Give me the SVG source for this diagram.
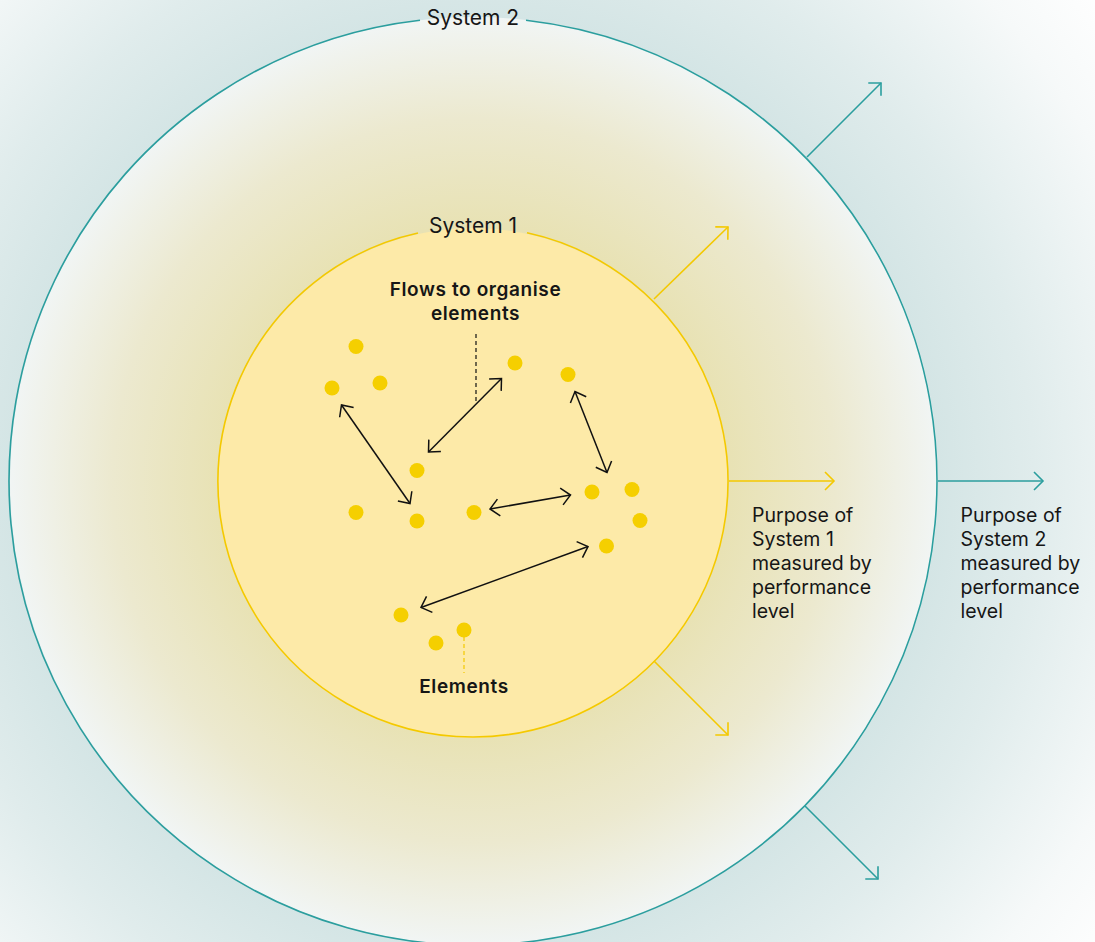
<svg xmlns="http://www.w3.org/2000/svg" width="1095" height="942" viewBox="0 0 1095 942">
  <defs>
    <!-- backdrop around the outer system -->
    <radialGradient id="bgOuter" gradientUnits="userSpaceOnUse" cx="474" cy="481" r="800">
      <stop offset="0" stop-color="#d4e5e5"/>
      <stop offset="0.58" stop-color="#d4e5e5"/>
      <stop offset="0.7" stop-color="#e0ecec"/>
      <stop offset="0.88" stop-color="#f6f9f9"/>
      <stop offset="1" stop-color="#ffffff"/>
    </radialGradient>
    <!-- fill of System 2 -->
    <radialGradient id="sys2Fill" gradientUnits="userSpaceOnUse" cx="474" cy="481" r="464">
      <stop offset="0" stop-color="#e6dfa8"/>
      <stop offset="0.55" stop-color="#e8e2b4"/>
      <stop offset="0.78" stop-color="#ece9cf"/>
      <stop offset="1" stop-color="#f1f5f4"/>
    </radialGradient>
    <marker id="chevY" markerUnits="userSpaceOnUse" markerWidth="24" markerHeight="24" viewBox="-12 -12 16 24" refX="0" refY="0" orient="auto">
      <path d="M-9,-9 L0,0 L-9,9" fill="none" stroke="#f4c900" stroke-width="1.6"/>
    </marker>
    <marker id="chevT" markerUnits="userSpaceOnUse" markerWidth="24" markerHeight="24" viewBox="-12 -12 16 24" refX="0" refY="0" orient="auto">
      <path d="M-9,-9 L0,0 L-9,9" fill="none" stroke="#2b9e9e" stroke-width="1.6"/>
    </marker>
    <marker id="chevK" markerUnits="userSpaceOnUse" markerWidth="24" markerHeight="24" viewBox="-12 -12 16 24" refX="0" refY="0" orient="auto-start-reverse">
      <path d="M-9,-8.5 L0,0 L-9,8.5" fill="none" stroke="#111111" stroke-width="1.5"/>
    </marker>
    <style>
      .txt { font-family: Inter, "Noto Sans", "Liberation Sans", sans-serif; fill: #161616; }
      .sys { font-size: 21px; text-anchor: middle; }
      .note { font-size: 19.5px; }
      .lbl { font-size: 19px; font-weight: 600; letter-spacing: 0.6px; text-anchor: middle; }
      .dot { fill: #f5cf00; }
      .flow { fill: none; stroke: #111111; stroke-width: 1.5; marker-start: url(#chevK); marker-end: url(#chevK); }
      .outY { fill: none; stroke: #f4c900; stroke-width: 1.6; marker-end: url(#chevY); }
      .outT { fill: none; stroke: #2b9e9e; stroke-width: 1.6; marker-end: url(#chevT); }
    </style>
  </defs>

  <rect x="0" y="0" width="1095" height="942" fill="url(#bgOuter)"/>

  <!-- System 2: outer circle, gap in the rim for its title -->
  <g id="system2">
    <circle cx="474" cy="481" r="464" fill="url(#sys2Fill)"/>
    <path d="M526,20.2 A464,464 0 1 1 420,20.2" fill="none" stroke="#2b9e9e" stroke-width="1.6"/>
    <text class="txt sys" x="473" y="25">System 2</text>
  </g>

  <!-- System 1: inner circle -->
  <g id="system1">
    <circle cx="473" cy="483" r="255" fill="#fdeaa8"/>
    <path d="M527,232.8 A255,255 0 1 1 418,233" fill="none" stroke="#f4c900" stroke-width="1.6"/>
    <text class="txt sys" x="473" y="233">System 1</text>
  </g>

  <!-- elements of System 1 -->
  <g id="elements">
    <circle class="dot" cx="356" cy="346.5" r="7.5"/>
    <circle class="dot" cx="332" cy="388" r="7.5"/>
    <circle class="dot" cx="380" cy="383" r="7.5"/>
    <circle class="dot" cx="417" cy="470.5" r="7.5"/>
    <circle class="dot" cx="356" cy="512.5" r="7.5"/>
    <circle class="dot" cx="417" cy="521" r="7.5"/>
    <circle class="dot" cx="515" cy="363" r="7.5"/>
    <circle class="dot" cx="568" cy="374.5" r="7.5"/>
    <circle class="dot" cx="592" cy="492" r="7.5"/>
    <circle class="dot" cx="632" cy="489.5" r="7.5"/>
    <circle class="dot" cx="640" cy="520.5" r="7.5"/>
    <circle class="dot" cx="474" cy="512.5" r="7.5"/>
    <circle class="dot" cx="606.5" cy="546" r="7.5"/>
    <circle class="dot" cx="401" cy="615" r="7.5"/>
    <circle class="dot" cx="436" cy="643" r="7.5"/>
    <circle class="dot" cx="464" cy="630" r="7.5"/>
  </g>

  <!-- flows, outputs and label leaders -->
  <g id="connectors">
    <line class="flow" x1="341.5" y1="405" x2="410" y2="503.5"/>
    <line class="flow" x1="428.5" y1="452" x2="501.5" y2="378.5"/>
    <line class="flow" x1="575" y1="391.5" x2="607" y2="472.5"/>
    <line class="flow" x1="490" y1="509" x2="570.5" y2="495"/>
    <line class="flow" x1="421" y1="607.5" x2="588" y2="546.5"/>

    <line x1="476" y1="334" x2="476" y2="403" stroke="#111111" stroke-width="1.2" stroke-dasharray="4 3"/>
    <line x1="464" y1="637" x2="464" y2="673" stroke="#f4c900" stroke-width="1.2" stroke-dasharray="4 3"/>

    <line class="outY" x1="654" y1="299" x2="728" y2="227"/>
    <line class="outY" x1="729" y1="481" x2="834" y2="481"/>
    <line class="outY" x1="654" y1="661" x2="728" y2="735"/>

    <line class="outT" x1="807" y1="157" x2="881" y2="83"/>
    <line class="outT" x1="938" y1="481" x2="1043" y2="481"/>
    <line class="outT" x1="805" y1="806" x2="878" y2="879"/>
  </g>

  <g id="label-flows">
    <text class="txt lbl" x="475.5" y="296">Flows to organise<tspan x="475.5" dy="23.5">elements</tspan></text>
  </g>
  <g id="label-elements">
    <text class="txt lbl" x="464" y="693">Elements</text>
  </g>

  <g id="purpose1">
    <text class="txt note" x="752" y="522">Purpose of<tspan x="752" dy="24">System 1</tspan><tspan x="752" dy="24">measured by</tspan><tspan x="752" dy="24">performance</tspan><tspan x="752" dy="24">level</tspan></text>
  </g>
  <g id="purpose2">
    <text class="txt note" x="960.5" y="522">Purpose of<tspan x="960.5" dy="24">System 2</tspan><tspan x="960.5" dy="24">measured by</tspan><tspan x="960.5" dy="24">performance</tspan><tspan x="960.5" dy="24">level</tspan></text>
  </g>
</svg>
